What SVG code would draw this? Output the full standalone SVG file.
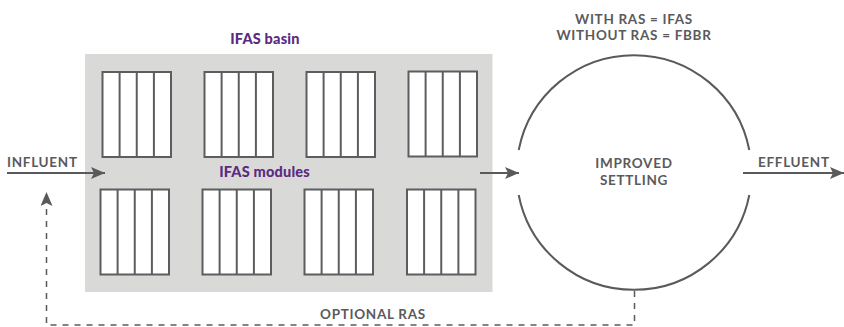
<svg xmlns="http://www.w3.org/2000/svg" width="844" height="327" viewBox="0 0 844 327">
<defs>
<style>
.lbl{font-family:Lato,"Noto Sans",sans-serif;font-weight:700;font-size:13.5px;fill:#5a5a5c;letter-spacing:0.7px}
.pur{font-family:Lato,"Noto Sans",sans-serif;font-weight:900;font-size:14.5px;fill:#5b2a82;letter-spacing:0.2px}
.mod{fill:#ffffff;stroke:#5d5d60;stroke-width:2}
.div{stroke:#5d5d60;stroke-width:2}
.ln{stroke:#5a5a5c;stroke-width:2;fill:none}
.dash{stroke:#5a5a5c;stroke-width:1.5;fill:none;stroke-dasharray:6 6}
</style>
<marker id="ah" viewBox="0 0 14 12" refX="14" refY="6" markerWidth="14" markerHeight="12" markerUnits="userSpaceOnUse" orient="auto">
<path d="M0,0 L14,6 L0,12 L3,6 Z" fill="#5a5a5c"/>
</marker>
<g id="m">
<rect class="mod" x="0" y="0" width="68.5" height="85"/>
<line class="div" x1="17.1" y1="0" x2="17.1" y2="85"/>
<line class="div" x1="34.25" y1="0" x2="34.25" y2="85"/>
<line class="div" x1="51.4" y1="0" x2="51.4" y2="85"/>
</g>
</defs>
<rect width="844" height="327" fill="#ffffff"/>
<g id="basin">
<rect x="85" y="54" width="407.5" height="238" fill="#d9dad7"/>
<text class="pur" x="265" y="44" text-anchor="middle">IFAS basin</text>
</g>
<g id="modules">
<use href="#m" x="102.5" y="72"/>
<use href="#m" x="204.5" y="72"/>
<use href="#m" x="306.5" y="72"/>
<use href="#m" x="408.5" y="71.5"/>
<use href="#m" x="100.5" y="189.5"/>
<use href="#m" x="202.5" y="189.5"/>
<use href="#m" x="304.5" y="189.5"/>
<use href="#m" x="407" y="189.5"/>
<text class="pur" x="264.5" y="177" text-anchor="middle">IFAS modules</text>
</g>
<g id="clarifier">
<path class="ln" d="M518.7,150 A117.5,117.5 0 0 1 749.3,150"/>
<path class="ln" d="M518.7,195 A117.5,117.5 0 0 0 749.3,195"/>
<text class="lbl" x="634" y="168" text-anchor="middle">IMPROVED</text>
<text class="lbl" x="634" y="185" text-anchor="middle">SETTLING</text>
<text class="lbl" x="634" y="24" text-anchor="middle">WITH RAS = IFAS</text>
<text class="lbl" x="634" y="40" text-anchor="middle">WITHOUT RAS = FBBR</text>
</g>
<g id="labels">
<text class="lbl" x="7" y="167">INFLUENT</text>
<text class="lbl" x="758" y="167">EFFLUENT</text>
<text class="lbl" x="373" y="319" text-anchor="middle">OPTIONAL RAS</text>
</g>
<g id="connectors">
<line class="ln" x1="7" y1="173" x2="105" y2="173" marker-end="url(#ah)"/>
<line class="ln" x1="480" y1="173" x2="519" y2="173" marker-end="url(#ah)"/>
<line class="ln" x1="743" y1="173" x2="844" y2="173" marker-end="url(#ah)"/>
<path class="dash" d="M634.5,291 V325 H46.5 V192" marker-end="url(#ah)"/>
</g>
</svg>
